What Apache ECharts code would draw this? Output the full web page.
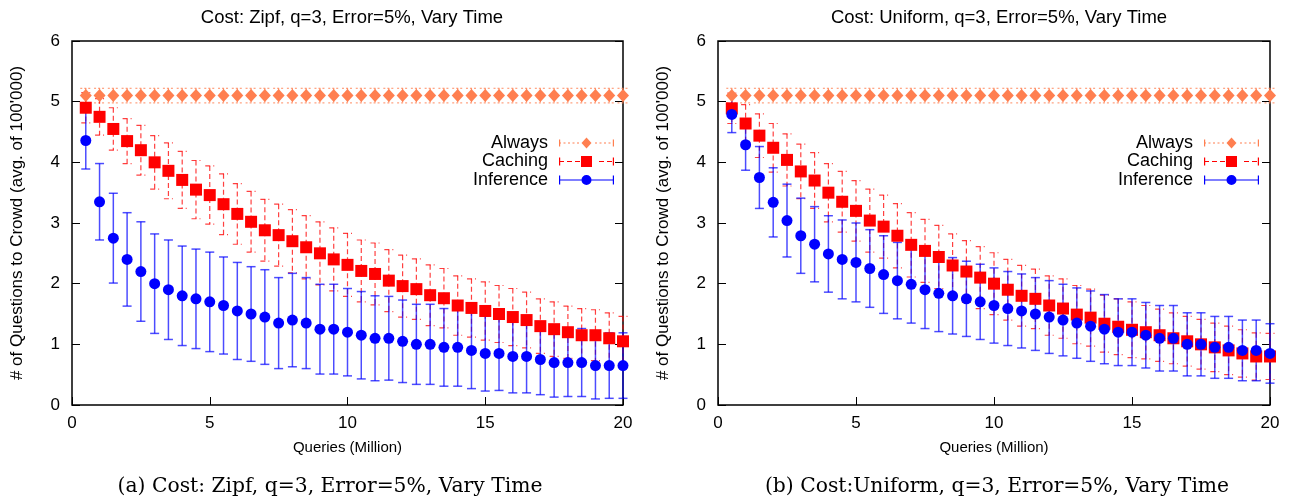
<!DOCTYPE html>
<html>
<head>
<meta charset="utf-8">
<script src="https://cdn.jsdelivr.net/npm/echarts@6/dist/echarts.min.js"></script>
<style>
html,body{margin:0;padding:0;background:#fff;}
#chart{width:1293px;height:500px;}
</style>
</head>
<body>
<div id="chart"></div>
<script>
// ---------- data ----------
const queries = [0.5,1,1.5,2,2.5,3,3.5,4,4.5,5,5.5,6,6.5,7,7.5,8,8.5,9,9.5,10,
                 10.5,11,11.5,12,12.5,13,13.5,14,14.5,15,15.5,16,16.5,17,17.5,18,18.5,19,19.5,20];
const xTicks = [0,5,10,15,20];
const yTicks = [0,1,2,3,4,5,6];

// (a) Zipf
const zipfAlways = [5.1,5.1,5.1,5.1,5.1,5.1,5.1,5.1,5.1,5.1,5.1,5.1,5.1,5.1,5.1,5.1,5.1,5.1,5.1,5.1,
                    5.1,5.1,5.1,5.1,5.1,5.1,5.1,5.1,5.1,5.1,5.1,5.1,5.1,5.1,5.1,5.1,5.1,5.1,5.1,5.1];
const zipfAlwaysErr = [0.12,0.12,0.12,0.12,0.12,0.12,0.12,0.12,0.12,0.12,0.12,0.12,0.12,0.12,0.12,0.12,0.12,0.12,0.12,0.12,
                       0.12,0.12,0.12,0.12,0.12,0.12,0.12,0.12,0.12,0.12,0.12,0.12,0.12,0.12,0.12,0.12,0.12,0.12,0.12,0.12];
const zipfCaching = [4.90,4.75,4.55,4.35,4.20,4.00,3.86,3.71,3.55,3.46,3.31,3.15,3.02,2.88,2.80,2.70,2.60,2.50,2.40,2.31,
                     2.21,2.16,2.05,1.96,1.91,1.81,1.76,1.64,1.60,1.55,1.50,1.45,1.40,1.30,1.25,1.20,1.15,1.15,1.10,1.05];
const zipfCachingErr = [0.25,0.30,0.35,0.37,0.41,0.44,0.46,0.47,0.48,0.48,0.50,0.50,0.50,0.51,0.51,0.52,0.52,0.52,0.52,0.52,
                        0.51,0.51,0.51,0.51,0.50,0.50,0.49,0.49,0.48,0.48,0.47,0.47,0.46,0.45,0.45,0.43,0.44,0.42,0.42,0.41];
const zipfInference = [4.36,3.35,2.75,2.40,2.20,2.00,1.90,1.80,1.75,1.70,1.64,1.55,1.50,1.45,1.35,1.40,1.35,1.25,1.25,1.20,
                       1.15,1.10,1.10,1.05,1.00,1.00,0.95,0.95,0.90,0.85,0.85,0.80,0.80,0.75,0.70,0.70,0.70,0.65,0.65,0.65];
const zipfInferenceErr = [0.47,0.63,0.74,0.77,0.82,0.82,0.82,0.82,0.82,0.82,0.80,0.80,0.78,0.78,0.75,0.77,0.75,0.74,0.74,0.72,
                          0.72,0.70,0.69,0.68,0.66,0.66,0.64,0.64,0.63,0.62,0.61,0.60,0.60,0.58,0.57,0.56,0.56,0.55,0.54,0.54];

// (b) Uniform
const unifAlways = [5.1,5.1,5.1,5.1,5.1,5.1,5.1,5.1,5.1,5.1,5.1,5.1,5.1,5.1,5.1,5.1,5.1,5.1,5.1,5.1,
                    5.1,5.1,5.1,5.1,5.1,5.1,5.1,5.1,5.1,5.1,5.1,5.1,5.1,5.1,5.1,5.1,5.1,5.1,5.1,5.1];
const unifAlwaysErr = [0.12,0.12,0.12,0.12,0.12,0.12,0.12,0.12,0.12,0.12,0.12,0.12,0.12,0.12,0.12,0.12,0.12,0.12,0.12,0.12,
                       0.12,0.12,0.12,0.12,0.12,0.12,0.12,0.12,0.12,0.12,0.12,0.12,0.12,0.12,0.12,0.12,0.12,0.12,0.12,0.12];
const unifCaching = [4.89,4.64,4.44,4.24,4.04,3.85,3.70,3.50,3.35,3.20,3.04,2.94,2.79,2.64,2.54,2.44,2.30,2.20,2.10,2.00,
                     1.90,1.80,1.75,1.64,1.59,1.49,1.44,1.34,1.29,1.24,1.20,1.15,1.10,1.05,1.00,0.95,0.90,0.85,0.80,0.80];
const unifCachingErr = [0.25,0.31,0.36,0.40,0.43,0.45,0.46,0.48,0.50,0.50,0.52,0.52,0.53,0.53,0.52,0.52,0.52,0.51,0.51,0.51,
                        0.50,0.50,0.49,0.49,0.49,0.48,0.47,0.47,0.46,0.46,0.44,0.43,0.42,0.41,0.41,0.40,0.40,0.39,0.39,0.38];
const unifInference = [4.79,4.29,3.75,3.34,3.04,2.79,2.65,2.49,2.40,2.35,2.25,2.15,2.05,1.99,1.90,1.84,1.80,1.75,1.70,1.64,
                       1.59,1.55,1.50,1.45,1.40,1.35,1.30,1.25,1.20,1.20,1.15,1.10,1.10,1.00,1.00,0.95,0.95,0.90,0.90,0.85];
const unifInferenceErr = [0.30,0.42,0.51,0.57,0.60,0.62,0.62,0.63,0.65,0.65,0.64,0.64,0.63,0.64,0.64,0.63,0.63,0.62,0.62,0.62,
                          0.61,0.61,0.60,0.60,0.59,0.58,0.58,0.57,0.55,0.55,0.54,0.54,0.54,0.52,0.52,0.51,0.51,0.50,0.50,0.49];

const panelTitles = ['Cost: Zipf, q=3, Error=5%, Vary Time', 'Cost: Uniform, q=3, Error=5%, Vary Time'];
const captions = ['(a) Cost: Zipf, q=3, Error=5%, Vary Time', '(b) Cost:Uniform, q=3, Error=5%, Vary Time'];
const seriesNames = ['Always', 'Caching', 'Inference'];
const xName = 'Queries (Million)';
const yName = "# of Questions to Crowd (avg. of 100'000)";

// ---------- styling ----------
const SANS = 'Liberation Sans, Arial, Helvetica, sans-serif';
const SERIF = 'DejaVu Serif, Liberation Serif, serif';
const C_ALWAYS = '#ff7f50', C_CACHING = '#ff0000', C_INF = '#0000ff';

function triples(vals, errs) { return queries.map((x, i) => [x, vals[i], errs[i]]); }

function errRender(style, cap) {
  return function (params, api) {
    const x = api.value(0), y = api.value(1), e = api.value(2);
    const hi = api.coord([x, y + e]);
    const lo = api.coord([x, y - e]);
    return {
      type: 'group',
      children: [
        {type: 'line', shape: {x1: hi[0], y1: hi[1], x2: lo[0], y2: lo[1]}, style: style},
        {type: 'line', shape: {x1: hi[0] - cap, y1: hi[1], x2: hi[0] + cap, y2: hi[1]}, style: style},
        {type: 'line', shape: {x1: lo[0] - cap, y1: lo[1], x2: lo[0] + cap, y2: lo[1]}, style: style}
      ]
    };
  };
}

const styAlways = {stroke: 'rgba(255,127,80,0.75)', lineWidth: 1.2, lineDash: [2, 2], fill: null};
const styCaching = {stroke: 'rgba(255,0,0,0.75)', lineWidth: 1.2, lineDash: [5, 3], fill: null};
const styInf = {stroke: 'rgba(0,0,255,0.7)', lineWidth: 1.5, fill: null};

// legend icon paths (55 x 11 boxes)
function dashedBar(y, h, dash, gap, skipFrom, skipTo) {
  let p = '';
  for (let x = 0; x < 55; x += dash + gap) {
    const x2 = Math.min(x + dash, 55);
    if (x2 <= skipFrom || x >= skipTo) p += 'M' + x + ' ' + y + 'H' + x2 + 'V' + (y + h) + 'H' + x + 'Z';
  }
  return p;
}
const capPath = (y1, y2) => 'M0 ' + y1 + 'H1.2V' + y2 + 'H0Z M53.8 ' + y1 + 'H55V' + y2 + 'H53.8Z';
const iconInference = 'path://' + capPath(1, 10) + ' M0 4.9H55V6.1H0Z M22.5 5.5A5 5 0 1 1 32.5 5.5A5 5 0 1 1 22.5 5.5Z M27.5 0.5V0.5';
const iconCaching = 'path://' + capPath(1.5, 9.5) + dashedBar(4.9, 1.2, 5, 3, 22, 33) + ' M22 0H33V11H22Z';
const iconAlways = 'path://' + capPath(2, 9) + dashedBar(5, 1, 2, 2.5, 22, 33) + ' M27.5 0L32.5 5.5L27.5 11L22.5 5.5Z';

function panelSeries(g, always, alwaysErr, caching, cachingErr, inf, infErr) {
  const base = {xAxisIndex: g, yAxisIndex: g * 2, animation: false, silent: true};
  return [
    Object.assign({type: 'custom', name: 'Always-err', renderItem: errRender(styAlways, 5.5), data: triples(always, alwaysErr), encode: {x: 0, y: 1}}, base),
    Object.assign({type: 'scatter', name: 'Always', symbol: 'diamond', symbolSize: [12, 13], itemStyle: {color: C_ALWAYS, opacity: 1}, data: triples(always, alwaysErr)}, base),
    Object.assign({type: 'custom', name: 'Caching-err', renderItem: errRender(styCaching, 4.5), data: triples(caching, cachingErr), encode: {x: 0, y: 1}}, base),
    Object.assign({type: 'scatter', name: 'Caching', symbol: 'rect', symbolSize: 12, itemStyle: {color: C_CACHING, opacity: 1}, data: triples(caching, cachingErr)}, base),
    Object.assign({type: 'custom', name: 'Inference-err', renderItem: errRender(styInf, 4.5), data: triples(inf, infErr), encode: {x: 0, y: 1}}, base),
    Object.assign({type: 'scatter', name: 'Inference', symbol: 'circle', symbolSize: 11, itemStyle: {color: C_INF, opacity: 1}, data: triples(inf, infErr)}, base)
  ];
}

function xAxisFor(g) {
  return {
    gridIndex: g, type: 'value', min: xTicks[0], max: xTicks[xTicks.length - 1], interval: xTicks[1] - xTicks[0],
    axisLine: {show: false}, axisTick: {show: true, inside: true, length: 8, lineStyle: {color: '#000', width: 1}},
    splitLine: {show: false},
    axisLabel: {color: '#000', fontSize: 17, fontFamily: SANS, margin: 10},
    name: xName, nameLocation: 'middle', nameGap: 35,
    nameTextStyle: {color: '#000', fontSize: 15, fontFamily: SANS}
  };
}
function yAxesFor(g) {
  return [{
    gridIndex: g, type: 'value', position: 'left', min: yTicks[0], max: yTicks[yTicks.length - 1], interval: yTicks[1] - yTicks[0],
    axisLine: {show: false}, axisTick: {show: true, inside: true, length: 8, lineStyle: {color: '#000', width: 1}},
    splitLine: {show: false},
    axisLabel: {color: '#000', fontSize: 17, fontFamily: SANS, margin: 12},
    name: yName, nameLocation: 'middle', nameGap: 46,
    nameTextStyle: {color: '#000', fontSize: 17, fontFamily: SANS}
  }, {
    gridIndex: g, type: 'value', position: 'right', min: yTicks[0], max: yTicks[yTicks.length - 1], interval: yTicks[1] - yTicks[0],
    axisLine: {show: false}, axisTick: {show: true, inside: true, length: 8, lineStyle: {color: '#000', width: 1}},
    splitLine: {show: false}, axisLabel: {show: false}
  }];
}
function legendFor(right) {
  return {
    orient: 'vertical', right: right, top: 129, align: 'right',
    itemWidth: 55, itemHeight: 11, itemGap: 0.5, selectedMode: false,
    textStyle: {fontSize: 18, fontFamily: SANS, color: '#000', lineHeight: 18, padding: [0, 6, 0, 0]},
    data: [
      {name: seriesNames[0], icon: iconAlways},
      {name: seriesNames[1], icon: iconCaching},
      {name: seriesNames[2], icon: iconInference}
    ]
  };
}

const option = {
  backgroundColor: '#fff',
  animation: false,
  title: [
    {text: panelTitles[0], left: 347, top: 3, textAlign: 'center', textStyle: {fontSize: 18.5, fontWeight: 'normal', fontFamily: SANS, color: '#000'}},
    {text: panelTitles[1], left: 994, top: 3, textAlign: 'center', textStyle: {fontSize: 18.5, fontWeight: 'normal', fontFamily: SANS, color: '#000'}},
    {text: captions[0], left: 325, top: 472, textAlign: 'center', textStyle: {fontSize: 20.3, fontWeight: 'normal', fontFamily: SERIF, color: '#000'}},
    {text: captions[1], left: 992, top: 472, textAlign: 'center', textStyle: {fontSize: 20.3, fontWeight: 'normal', fontFamily: SERIF, color: '#000'}}
  ],
  grid: [
    {left: 72, top: 41, width: 551, height: 364, show: true, borderColor: '#000', borderWidth: 1.5, backgroundColor: 'transparent'},
    {left: 718, top: 41, width: 552, height: 364, show: true, borderColor: '#000', borderWidth: 1.5, backgroundColor: 'transparent'}
  ],
  xAxis: [xAxisFor(0), xAxisFor(1)],
  yAxis: yAxesFor(0).concat(yAxesFor(1)),
  legend: [legendFor(1293 - 619), legendFor(1293 - 1264)],
  series: panelSeries(0, zipfAlways, zipfAlwaysErr, zipfCaching, zipfCachingErr, zipfInference, zipfInferenceErr)
    .concat(panelSeries(1, unifAlways, unifAlwaysErr, unifCaching, unifCachingErr, unifInference, unifInferenceErr))
};

const chart = echarts.init(document.getElementById('chart'), null, {renderer: 'canvas'});
chart.setOption(option);
</script>
</body>
</html>
